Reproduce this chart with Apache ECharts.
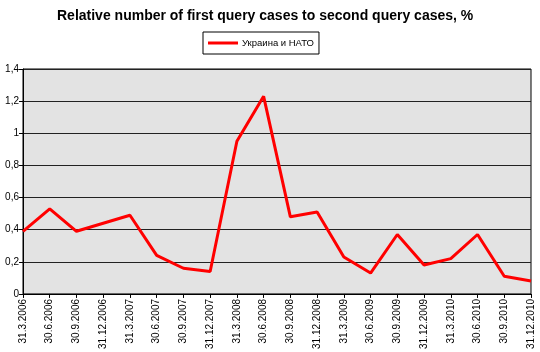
<!DOCTYPE html>
<html><head><meta charset="utf-8">
<script src="https://cdn.jsdelivr.net/npm/echarts@6/dist/echarts.min.js"></script>
<style>html,body{margin:0;padding:0;background:#fff}#c{width:540px;height:352px}</style>
</head><body><div id="c"></div>
<script>
const categories = ["31.3.2006","30.6.2006","30.9.2006","31.12.2006","31.3.2007","30.6.2007","30.9.2007","31.12.2007","31.3.2008","30.6.2008","30.9.2008","31.12.2008","31.3.2009","30.6.2009","30.9.2009","31.12.2009","31.3.2010","30.6.2010","30.9.2010","31.12.2010"];
const seriesName = "Украина и НАТО";
const values = [0.39,0.53,0.39,0.44,0.49,0.24,0.16,0.14,0.95,1.23,0.48,0.51,0.23,0.13,0.37,0.18,0.22,0.37,0.11,0.08];
const yTicks = [0,0.2,0.4,0.6,0.8,1,1.2,1.4];
const title = "Relative number of first query cases to second query cases, %";

const chart = echarts.init(document.getElementById('c'), null, {renderer:'canvas'});
chart.setOption({
  animation:false,
  backgroundColor:'#fff',
  title:{text:title,left:52,top:4,textStyle:{fontFamily:'Liberation Sans, Arial',fontSize:14,fontWeight:'bold',color:'#000'}},
  legend:{data:[seriesName],left:203,top:32,borderColor:'#000',borderWidth:1,padding:[6,5,6,5],itemWidth:30,itemHeight:3,itemGap:4,icon:'rect',
    textStyle:{fontFamily:'Liberation Sans, Arial',fontSize:9.5,color:'#000',padding:[0,0,0,-1]}},
  grid:{left:23,right:9,top:69,bottom:56,show:true,backgroundColor:'#e3e3e3',borderColor:'#000',borderWidth:1},
  xAxis:{type:'category',data:categories,boundaryGap:false,
    axisLine:{lineStyle:{color:'#000'}},
    axisTick:{show:true,interval:0,length:4,lineStyle:{color:'#000'}},
    axisLabel:{interval:0,rotate:90,fontFamily:'Liberation Sans, Arial',fontSize:10,color:'#000',margin:5},
    splitLine:{show:false}},
  yAxis:{type:'value',min:yTicks[0],max:yTicks[yTicks.length-1],interval:0.2,
    axisLine:{show:true,lineStyle:{color:'#000'}},
    axisTick:{show:true,length:4,lineStyle:{color:'#000'}},
    axisLabel:{fontFamily:'Liberation Sans, Arial',fontSize:10,color:'#000',margin:4,
      formatter:v=>String(Math.round(v*10)/10).replace('.',',')},
    splitLine:{show:true,lineStyle:{color:'#222',width:1}}},
  series:[{name:seriesName,type:'line',data:values,symbol:'none',
    lineStyle:{color:'#ff0000',width:3},itemStyle:{color:'#ff0000'}}]
});
</script></body></html>
